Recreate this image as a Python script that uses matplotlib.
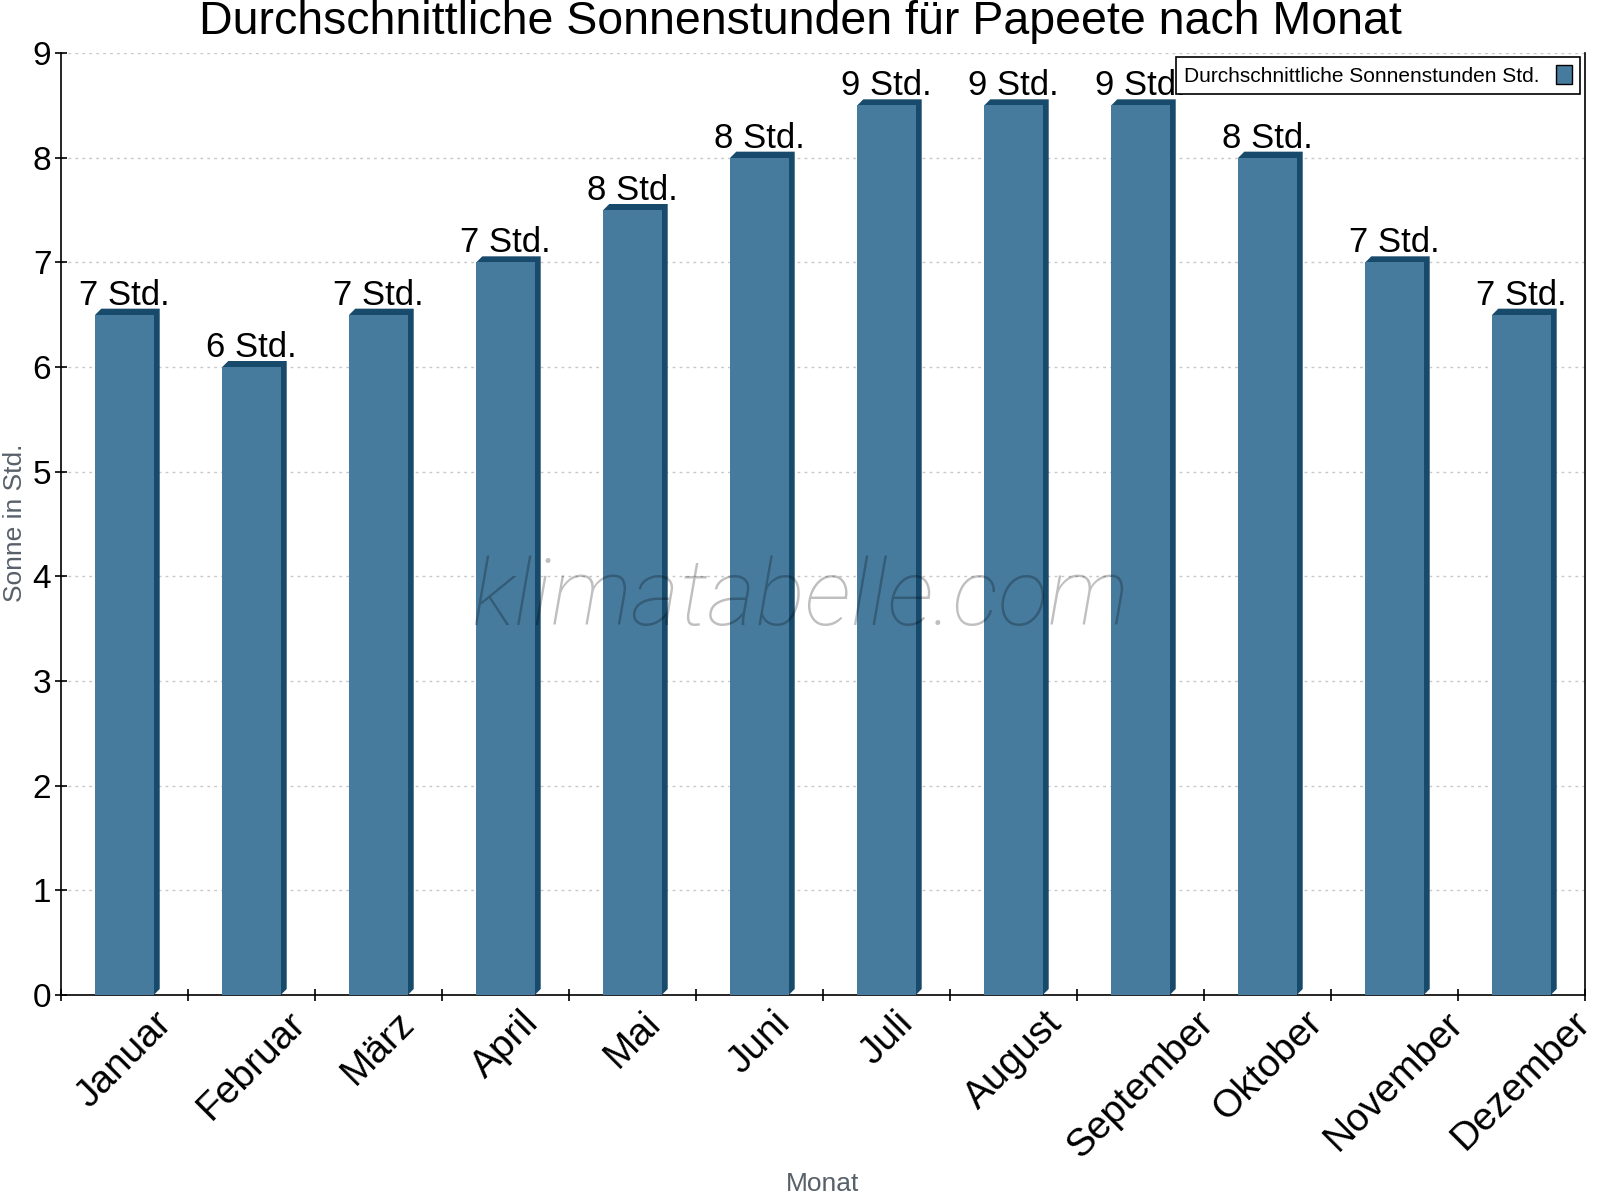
import numpy as np
import matplotlib
matplotlib.use("Agg")
import matplotlib.pyplot as plt
from matplotlib.patches import Polygon, Patch
from matplotlib.transforms import IdentityTransform

plt.rcParams['font.family'] = ['Liberation Sans', 'DejaVu Sans']

# data
months = ['Januar', 'Februar', 'März', 'April', 'Mai', 'Juni',
          'Juli', 'August', 'September', 'Oktober', 'November', 'Dezember']
sun_hours = [6.5, 6.0, 6.5, 7.0, 7.5, 8.0, 8.5, 8.5, 8.5, 8.0, 7.0, 6.5]
bar_labels = ['7 Std.', '6 Std.', '7 Std.', '7 Std.', '8 Std.', '8 Std.',
              '9 Std.', '9 Std.', '9 Std.', '8 Std.', '7 Std.', '7 Std.']
yticks = [0, 1, 2, 3, 4, 5, 6, 7, 8, 9]

front = '#467b9e'
dark = '#184a6b'
depth = 6  # px of the fake 3d
W, H = 1600, 1200

fig = plt.figure(figsize=(16, 12), dpi=100)
ax = fig.add_axes([61 / W, 1 - 995 / H, (1585 - 61) / W, (995 - 53) / H])

x = np.arange(len(months))
ax.set_xlim(-0.5, len(months) - 0.5)
ax.set_ylim(0, 9)

bars = ax.bar(x, sun_hours, width=0.46, color=front, zorder=3)

# top + side faces, drawn in pixels so the slant is 45 deg
for b in bars:
    x0, y0 = ax.transData.transform((b.get_x(), 0))
    x1, y1 = ax.transData.transform((b.get_x() + b.get_width(), b.get_height()))
    hexa = [(x0, y0), (x1, y0), (x1 + depth, y0 + depth), (x1 + depth, y1 + depth),
            (x0 + depth, y1 + depth), (x0, y1)]
    ax.add_patch(Polygon(hexa, closed=True, facecolor=dark, edgecolor='none',
                         transform=IdentityTransform(), zorder=2))

for xi, v, lab in zip(x, sun_hours, bar_labels):
    ax.annotate(lab, (xi, v), xytext=(0, 10), textcoords='offset pixels',
                ha='center', va='baseline', fontsize=25, color='black', zorder=5)

# grid
ax.set_yticks(yticks)
ax.yaxis.grid(True, linestyle=(0, (2, 3)), color='#c8c8c8', linewidth=1)
ax.set_axisbelow(True)
ax.tick_params(axis='y', direction='inout', length=8, width=1.2, labelsize=24, pad=3)

ax.set_xticks(np.arange(-0.5, len(months), 1))
ax.set_xticklabels([])
ax.tick_params(axis='x', which='major', direction='inout', length=9, width=1.2)
ax.set_xticks(x, minor=True)
ax.set_xticklabels(months, minor=True, rotation=45, ha='center', fontsize=28)
ax.tick_params(axis='x', which='minor', length=0, pad=7)

for s in ['left', 'bottom', 'right']:
    ax.spines[s].set_linewidth(1.2)
ax.spines['top'].set_visible(False)

# legend
h = Patch(facecolor=front, edgecolor='black', linewidth=1)
leg = ax.legend([h], ['Durchschnittliche Sonnenstunden Std.'], loc='upper right',
                bbox_to_anchor=(1580 / W, 1 - 57 / H), bbox_transform=fig.transFigure,
                fontsize=15, markerfirst=False, fancybox=False, framealpha=1,
                edgecolor='black', handlelength=0.75, handleheight=1.0,
                borderpad=0.4, handletextpad=0.8, borderaxespad=0)
leg.get_frame().set_linewidth(1.2)
leg.set_zorder(6)

# titles
fig.text(0.5, 1 - 22 / H, 'Durchschnittliche Sonnenstunden für Papeete nach Monat',
         ha='center', va='center', fontsize=33.5)
fig.text(15 / W, 1 - 523 / H, 'Sonne in Std.', rotation=90, ha='center', va='center',
         fontsize=19, color='#58606a')
fig.text(823 / W, 1 - 1184 / H, 'Monat', ha='center', va='center',
         fontsize=19, color='#58606a')

# watermark
fig.text(800 / W, 1 - 600 / H, 'klimatabelle.com', ha='center', va='center',
         fontsize=67, family='Roboto', fontweight='light', style='italic',
         color='black', alpha=0.25, zorder=10)

fig.savefig('out.png', dpi=100)
